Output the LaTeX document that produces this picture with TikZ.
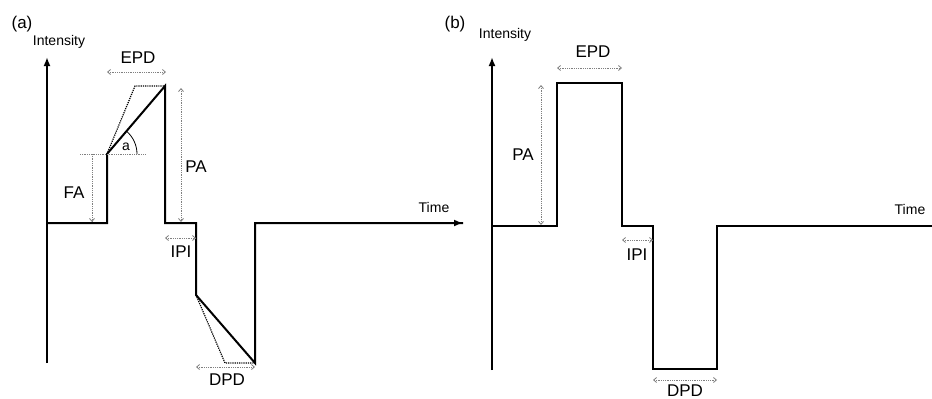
\documentclass[tikz,border=0pt]{standalone}
\usepackage{fontspec}
\setmainfont{Liberation Sans}
\usetikzlibrary{arrows.meta}
\begin{document}
\begin{tikzpicture}[x=1pt,y=-1pt,
  sig/.style={line width=2pt,line join=miter},
  axis/.style={line width=2pt,-{Latex[length=9pt,width=7pt]}},
  dim/.style={gray,line width=0.8pt,densely dotted,{Straight Barb[length=3pt,width=5pt]}-{Straight Barb[length=3pt,width=5pt]}},
  dimone/.style={gray,line width=0.8pt,densely dotted,-{Straight Barb[length=3pt,width=5pt]}},
  guide/.style={line width=1.2pt,densely dotted},
  big/.style={font=\fontsize{17}{17}\selectfont,inner sep=0pt},
  small/.style={font=\fontsize{14}{14}\selectfont,inner sep=0pt}]
\useasboundingbox (0,0) rectangle (932,399);
% ---------- panel (a) ----------
\coordinate (a0) at (47,223);
\coordinate (a1) at (107,223);
\coordinate (a2) at (107,154);
\coordinate (a3) at (165,86);
\coordinate (a4) at (165,223);
\coordinate (a5) at (196,223);
\coordinate (a6) at (196,295);
\coordinate (a7) at (255,363);
\coordinate (a8) at (255,223);
\coordinate (aT) at (463,223);
\coordinate (ayb) at (47,363);
\coordinate (ayt) at (47,57);
\coordinate (ad1) at (135,86);
\coordinate (ad2) at (225,363);
\coordinate (ah1) at (80,154);
\coordinate (ah2) at (145,154);
\draw[axis] (ayb) -- (ayt);
\draw[sig] (a0) -- (a1) -- (a2) -- (a3) -- (a4) -- (a5) -- (a6) -- (a7) -- (a8) -- (aT);
\draw[axis] (a8) -- (aT);
\draw[guide] (a2) -- (ad1) -- (a3);
\draw[guide] (a6) -- (ad2) -- (a7);
\draw[gray,line width=0.8pt,densely dotted] (ah1) -- (ah2);
\draw[line width=0.8pt] ([shift={(30,0)}]a2) arc[start angle=0,end angle=-49.5,radius=30];
\node[small] (alab) at (126,147) {a};
\node[big] (lbla) at (22,24) {(a)};
\node[small] (inta) at (59,42) {Intensity};
\node[small] (timea) at (434,207) {Time};
\draw[dim] (107,72) coordinate (e1) -- (166,72) coordinate (e2);
\node[big] (epda) at (138,58) {EPD};
\draw[dimone] (92,154) coordinate (f1) -- (92,222) coordinate (f2);
\node[big] (faa) at (74,193) {FA};
\draw[dim] (181,88) coordinate (p1) -- (181,222) coordinate (p2);
\node[big] (paa) at (196,167) {PA};
\draw[dim] (165,238) coordinate (i1) -- (196,238) coordinate (i2);
\node[big] (ipia) at (181,252) {IPI};
\draw[dim] (196,367) coordinate (d1) -- (255,367) coordinate (d2);
\node[big] (dpda) at (227,380) {DPD};
% ---------- panel (b) ----------
\coordinate (b0) at (492,226);
\coordinate (b1) at (557,226);
\coordinate (b2) at (557,83);
\coordinate (b3) at (622,83);
\coordinate (b4) at (622,226);
\coordinate (b5) at (653,226);
\coordinate (b6) at (653,369);
\coordinate (b7) at (717,369);
\coordinate (b8) at (717,226);
\coordinate (bT) at (933,226);
\coordinate (byb) at (492,370);
\coordinate (byt) at (492,57);
\draw[axis] (byb) -- (byt);
\draw[sig] (b0) -- (b1) -- (b2) -- (b3) -- (b4) -- (b5) -- (b6) -- (b7) -- (b8) -- (bT);
\node[big] (lblb) at (455,24) {(b)};
\node[small] (intb) at (505,35) {Intensity};
\node[small] (timeb) at (910,209) {Time};
\draw[dim] (557,68) -- (622,68);
\node[big] (epdb) at (593,52) {EPD};
\draw[dim] (541,85) -- (541,225);
\node[big] (pab) at (523,155) {PA};
\draw[dim] (622,240) -- (653,240);
\node[big] (ipib) at (637,255) {IPI};
\draw[dim] (653,380) -- (717,380);
\node[big] (dpdb) at (685,391) {DPD};
\end{tikzpicture}
\end{document}
